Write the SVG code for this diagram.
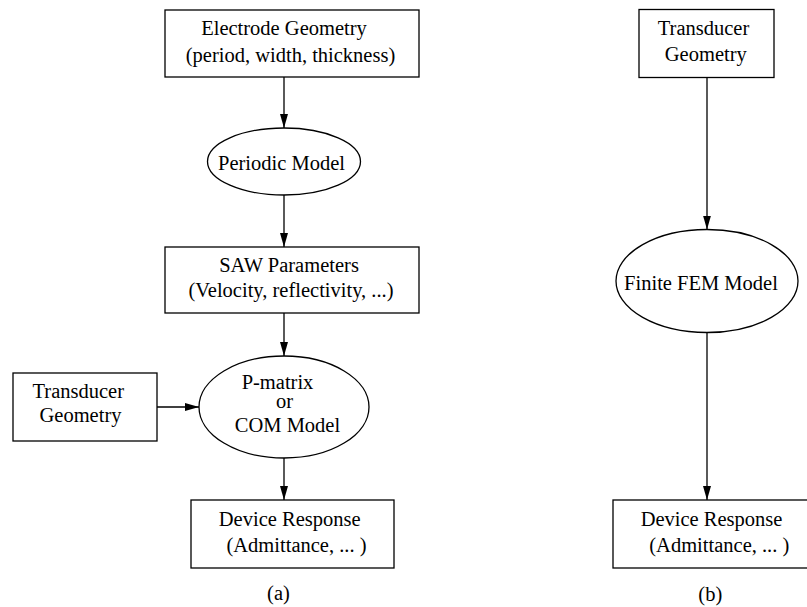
<svg xmlns="http://www.w3.org/2000/svg" width="807" height="607" viewBox="0 0 807 607">
<style>
.box{fill:#fff;stroke:#000;stroke-width:1.3}
.ell{fill:#fff;stroke:#000;stroke-width:1.3}
.t{font-size:20.5px;fill:#000;text-anchor:middle}
.c{stroke:#000;stroke-width:1.3;fill:none;marker-end:url(#ah)}
</style>
<defs>
<marker id="ah" markerUnits="userSpaceOnUse" markerWidth="14" markerHeight="10" refX="14" refY="4" orient="auto">
<path d="M0,0 L14,4 L0,8 Z" fill="#000"/>
</marker>
</defs>
<rect width="807" height="607" fill="#fff"/>
<g id="connectors">
<line class="c" x1="284" y1="77" x2="284" y2="128"/>
<line class="c" x1="284" y1="195" x2="284" y2="247"/>
<line class="c" x1="284" y1="313" x2="284" y2="356"/>
<line class="c" x1="284" y1="458" x2="284" y2="500"/>
<line class="c" x1="157" y1="407" x2="199" y2="407"/>
<line class="c" x1="707" y1="77.5" x2="707" y2="229.5"/>
<line class="c" x1="707" y1="332.5" x2="707" y2="500"/>
</g>
<g font-family="Liberation Serif, Times New Roman, Times, serif">
<g id="electrode">
<rect class="box" x="165" y="10" width="254" height="67"/>
<text class="t" x="284" y="35">Electrode Geometry</text>
<text class="t" x="290.5" y="62">(period, width, thickness)</text>
</g>
<g id="periodic">
<ellipse class="ell" cx="284" cy="161.5" rx="76.5" ry="33.5"/>
<text class="t" x="281.5" y="170">Periodic Model</text>
</g>
<g id="saw">
<rect class="box" x="165" y="247" width="254" height="66"/>
<text class="t" x="289" y="272">SAW Parameters</text>
<text class="t" x="291" y="297">(Velocity, reflectivity, ...)</text>
</g>
<g id="pmatrix">
<ellipse class="ell" cx="284" cy="407" rx="85" ry="51"/>
<text class="t" x="277.5" y="389">P-matrix</text>
<text class="t" x="284.5" y="408">or</text>
<text class="t" x="287.5" y="432">COM Model</text>
</g>
<g id="transducer-a">
<rect class="box" x="13" y="373" width="144" height="68"/>
<text class="t" x="78.3" y="398">Transducer</text>
<text class="t" x="80.5" y="422">Geometry</text>
</g>
<g id="device-a">
<rect class="box" x="191" y="500" width="203" height="68"/>
<text class="t" x="289.7" y="526">Device Response</text>
<text class="t" x="296.5" y="552">(Admittance, ... )</text>
</g>
<text class="t" x="278.5" y="600">(a)</text>
<g id="transducer-b">
<rect class="box" x="639" y="9.5" width="135" height="68"/>
<text class="t" x="703.5" y="35">Transducer</text>
<text class="t" x="705.8" y="61">Geometry</text>
</g>
<g id="fem">
<ellipse class="ell" cx="707" cy="281" rx="91" ry="51.5"/>
<text class="t" x="701" y="290">Finite FEM Model</text>
</g>
<g id="device-b">
<rect class="box" x="613" y="500" width="200" height="68"/>
<text class="t" x="711.5" y="526">Device Response</text>
<text class="t" x="719.3" y="552">(Admittance, ... )</text>
</g>
<text class="t" x="710.3" y="601">(b)</text>
</g>
</svg>
